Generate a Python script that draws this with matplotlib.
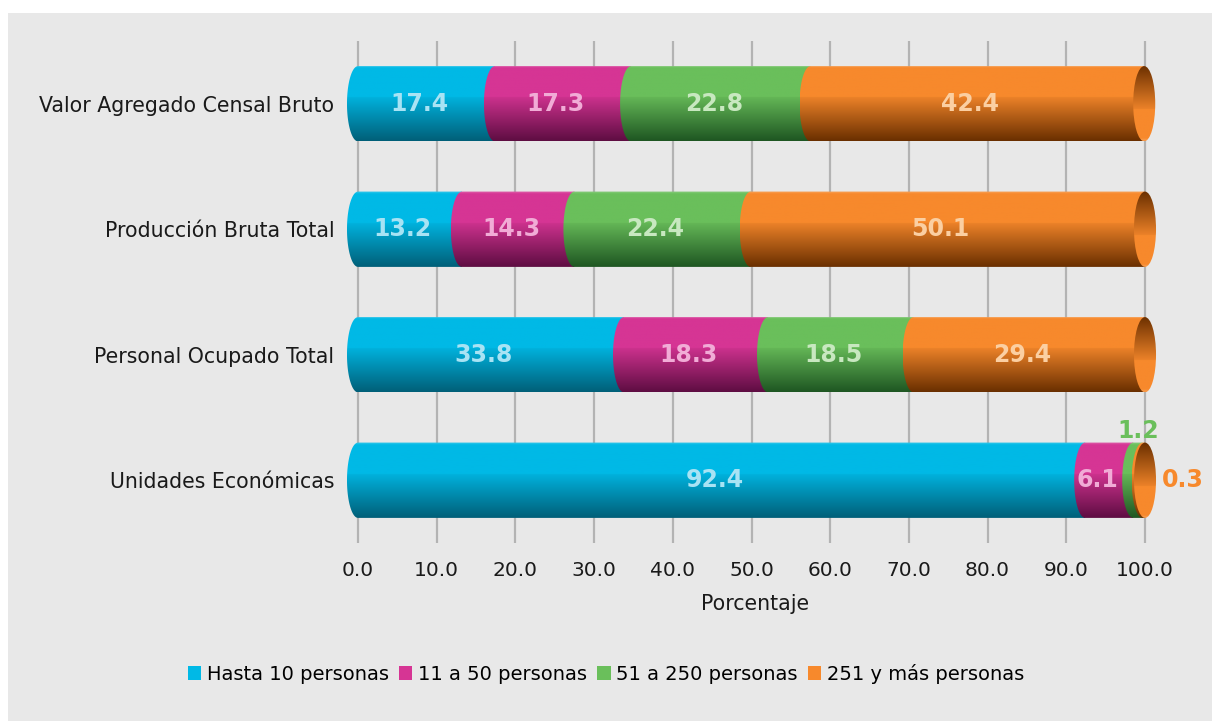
import numpy as np
import matplotlib.pyplot as plt
from matplotlib.patches import Ellipse, Patch, PathPatch, Rectangle
from matplotlib.path import Path
from matplotlib.colors import to_rgb

# data
categories = ["Unidades Económicas", "Personal Ocupado Total",
              "Producción Bruta Total", "Valor Agregado Censal Bruto"]
series_names = ["Hasta 10 personas", "11 a 50 personas",
                "51 a 250 personas", "251 y más personas"]
hasta10 = [92.4, 33.8, 13.2, 17.4]
de11a50 = [6.1, 18.3, 14.3, 17.3]
de51a250 = [1.2, 18.5, 22.4, 22.8]
mas251 = [0.3, 29.4, 50.1, 42.4]
xticks = [0, 10, 20, 30, 40, 50, 60, 70, 80, 90, 100]

base_cols = ["#00b9e6", "#d63594", "#6abf5b", "#f7892c"]
dark_cols = ["#005f78", "#5e0d42", "#1e5622", "#6a2f00"]
label_cols = ["#a8e3f4", "#f1acd6", "#c8e8c0", "#fbcfa2"]

fig = plt.figure(figsize=(12.12, 7.21), dpi=100)
fig.patch.set_facecolor("white")
fig.patches.append(Rectangle((8 / 1212, 0), 1, 1 - 13 / 721, transform=fig.transFigure,
                             facecolor="#e8e8e8", edgecolor="none", zorder=-10))

ax = fig.add_axes([340 / 1212, 1 - 543 / 721, 830 / 1212, 502 / 721])
ax.set_facecolor("none")
ax.set_xlim(-18 / 7.87, 100 + 25 / 7.87)
ax.set_ylim(-0.5, 3.5)

for xv in xticks:
    ax.axvline(xv, color="#b3b3b3", lw=1.6, zorder=0)

h = 0.6
a = 1.4  # half width of the end ellipse (data units)


def grad_img(c1, c2, flip=False):
    n = 200
    t = np.linspace(0, 1, n)
    w = np.clip((t - 0.42) / 0.58, 0, 1)
    w = np.where(t > 0.42, 0.08 + 0.92 * w, w * 0)
    b, d = np.array(to_rgb(c1)), np.array(to_rgb(c2))
    rgb = b[None, :] * (1 - w[:, None]) + d[None, :] * w[:, None]
    top = t < 0.03
    rgb[top] = rgb[top] * 0.88 + 0.12
    if flip:
        rgb = rgb[::-1]
    return rgb[:, None, :]


def seg_path(x0, x1, yc):
    th = np.linspace(np.pi / 2, 3 * np.pi / 2, 40)
    xs = list(x0 + a * np.cos(th)) + [x1, x1]
    ys = list(yc + h / 2 * np.sin(th)) + [yc - h / 2, yc + h / 2]
    verts = list(zip(xs, ys)) + [(xs[0], ys[0])]
    codes = [Path.MOVETO] + [Path.LINETO] * (len(verts) - 2) + [Path.CLOSEPOLY]
    return Path(verts, codes)


series = [hasta10, de11a50, de51a250, mas251]
z = 2
for i, cat in enumerate(categories):
    left = 0
    for j, vals in enumerate(series):
        v = vals[i]
        p = PathPatch(seg_path(left, left + v, i), facecolor="none", edgecolor="none")
        ax.add_patch(p)
        im = ax.imshow(grad_img(base_cols[j], dark_cols[j]), aspect="auto",
                       extent=[left - a, left + v, i - h / 2, i + h / 2], zorder=z)
        im.set_clip_path(p)
        z += 1
        if v >= 3:
            shift = 0.9 if v >= 10 else 1.5
            ax.text(left + v / 2 - shift, i, f"{v:.1f}", ha="center", va="center",
                    fontsize=17, fontweight="bold", color=label_cols[j], zorder=100)
        left += v
    # right end cap
    e = Ellipse((left, i), 2 * a, h, facecolor="none", edgecolor="none")
    ax.add_patch(e)
    im = ax.imshow(grad_img(base_cols[3], dark_cols[3], flip=True), aspect="auto",
                   extent=[left - a, left + a, i - h / 2, i + h / 2], zorder=z)
    im.set_clip_path(e)
    z += 1

# small values on Unidades Económicas
ax.text(hasta10[0] + de11a50[0] + de51a250[0] / 2, h / 2 + 0.0, f"{de51a250[0]:.1f}",
        ha="center", va="bottom", fontsize=17, fontweight="bold", color=base_cols[2], zorder=100)
ax.text(100 + a + 0.8, 0, f"{mas251[0]:.1f}", ha="left", va="center",
        fontsize=17, fontweight="bold", color=base_cols[3], zorder=100)

ax.set_yticks(range(len(categories)))
ax.set_yticklabels(categories, fontsize=14.8, color="#1a1a1a")
ax.set_xticks(xticks)
ax.set_xticklabels([f"{x:.1f}" for x in xticks], fontsize=14.5, color="#1a1a1a")
ax.tick_params(axis="x", length=0, pad=13)
ax.tick_params(axis="y", length=0, pad=4)
ax.set_xlabel("Porcentaje", fontsize=14.8, color="#1a1a1a", labelpad=10)
for s in ax.spines.values():
    s.set_visible(False)

handles = [Patch(facecolor=c, edgecolor="none") for c in base_cols]
fig.legend(handles, series_names, loc="center", bbox_to_anchor=(0.5, 1 - 674 / 721),
           ncol=4, frameon=False, fontsize=14, handlelength=0.7, handleheight=0.7,
           handletextpad=0.3, columnspacing=0.5)

fig.savefig("out.png", dpi=100, facecolor=fig.get_facecolor())
